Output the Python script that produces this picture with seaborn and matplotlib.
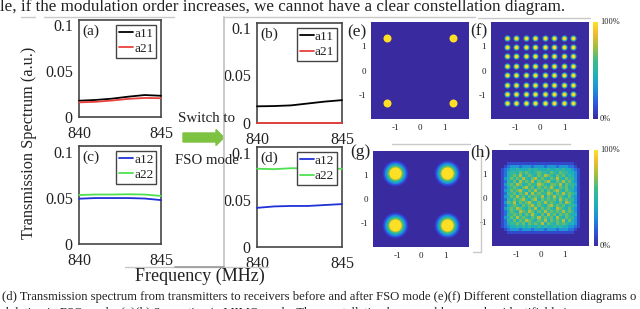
import matplotlib
matplotlib.use("Agg")
import matplotlib.pyplot as plt
import numpy as np
import pandas as pd
import seaborn as sns
from matplotlib.cm import ScalarMappable
from matplotlib.colors import LinearSegmentedColormap, Normalize
from matplotlib.lines import Line2D
from matplotlib.patches import FancyArrow

W, H = 640, 309

# data
freq = [840, 841, 842, 843, 844, 845]
a11_before = [0.0178, 0.0186, 0.0200, 0.0222, 0.0240, 0.0232]
a21_before = [0.0160, 0.0166, 0.0180, 0.0198, 0.0208, 0.0205]
a12_before = [0.0490, 0.0497, 0.0497, 0.0497, 0.0492, 0.0475]
a22_before = [0.0530, 0.0535, 0.0535, 0.0538, 0.0535, 0.0520]
a11_after = [0.0175, 0.0178, 0.0185, 0.0205, 0.0225, 0.0240]
a21_after = [0.0003, 0.0003, 0.0003, 0.0003, 0.0003, 0.0003]
a12_after = [0.0415, 0.0430, 0.0435, 0.0435, 0.0445, 0.0455]
a22_after = [0.0830, 0.0825, 0.0835, 0.0835, 0.0825, 0.0830]

qpsk_tx = [-1.35, 1.35]
qam_levels = [-1.35, -0.96, -0.58, -0.19, 0.19, 0.58, 0.96, 1.35]
qpsk_rx = [-1.1, 1.1]

# received 64QAM density, one digit per cell (ninths of full scale)
rx64_rows = [
    "00000000000000000000000000000000",
    "00000000000000000000000000000000",
    "00000000000000000000000000000000",
    "00000000000000000000000000000000",
    "00000111111111111111111111100000",
    "00001233323332333233323332210000",
    "00012344544454544454454544321000",
    "00012455465654565546546554431000",
    "00012456574565465765465645431000",
    "00013465657546756546575465531000",
    "00012546475657465675465756431000",
    "00013565764565576546657465541000",
    "00012456546756465657546564531000",
    "00013465675465756465675465431000",
    "00012556465747565576465756541000",
    "00013465756465657465756546431000",
    "00012546567546746565647565531000",
    "00013657465675465756546476431000",
    "00012456546567565467565645541000",
    "00013565765465746565476546431000",
    "00012465476576465756565756531000",
    "00012556564657546475646565441000",
    "00013465756546575656475465531000",
    "00012546465765465746565746431000",
    "00012455656465657465465654431000",
    "00012344545454454544545443321000",
    "00001233323332333233323332210000",
    "00000111111111111111111111100000",
    "00000000000000000000000000000000",
    "00000000000000000000000000000000",
    "00000000000000000000000000000000",
    "00000000000000000000000000000000",
]
rx64 = [[int(c) / 9 for c in row] for row in rx64_rows]

SERIF = "Liberation Serif"
DARK = "#454545"
sns.set_theme(style="white")
plt.rcParams["font.family"] = SERIF
plt.rcParams["text.color"] = "#222222"
plt.rcParams["xtick.color"] = "#222222"
plt.rcParams["ytick.color"] = "#222222"

parula = LinearSegmentedColormap.from_list("parula_like", [
    (0.0, "#3a2a9f"), (0.15, "#2f55dd"), (0.3, "#1f8fd8"), (0.45, "#1fb2b8"),
    (0.6, "#3dbb8a"), (0.75, "#a5bf3c"), (0.88, "#f0bb30"), (1.0, "#fde025"),
])
BG = "#3a2a9f"

fig = plt.figure(figsize=(W / 100, H / 100), dpi=100)


def box(x0, y0, x1, y1):
    # pixel box (y down) to a figure fraction rect
    return [x0 / W, 1 - y1 / H, (x1 - x0) / W, (y1 - y0) / H]


def ftext(x, y, s, size, **kw):
    kw.setdefault("ha", "center")
    kw.setdefault("va", "center")
    fig.text(x / W, 1 - y / H, s, fontsize=size, family=SERIF, **kw)


def stray(xs, ys, color="#c9c9c9", lw=1.0):
    fig.add_artist(Line2D([x / W for x in xs], [1 - y / H for y in ys], color=color, lw=lw))


def spectrum(rect, letter, s1, s2, n1, n2, c1, c2, top):
    ax = fig.add_axes(box(*rect))
    df = pd.DataFrame({"f": freq, n1: s1, n2: s2}).melt("f", var_name="path", value_name="t")
    sns.lineplot(data=df, x="f", y="t", hue="path", palette=[c1, c2], lw=1.3, ax=ax,
                 zorder=3, clip_on=False)
    ax.set_xlim(840, 845)
    ax.set_ylim(0, top)
    ax.set_xticks([840, 845])
    ax.set_yticks([0, 0.05, 0.1])
    ax.set_yticklabels(["0", "0.05", "0.1"])
    ax.set_xlabel("")
    ax.set_ylabel("")
    ax.tick_params(axis="both", labelsize=11.5, direction="in", length=2, width=0.8, color=DARK)
    ax.tick_params(axis="x", pad=6.5)
    ax.tick_params(axis="y", pad=4.5)
    for s in ax.spines.values():
        s.set_color(DARK)
        s.set_linewidth(1.2)
    ax.text(0.04, 0.95, letter, transform=ax.transAxes, fontsize=11, va="top", ha="left")
    ax.legend(loc="upper right", bbox_to_anchor=(0.94, 0.95), fontsize=9.6, fancybox=False, framealpha=1,
              edgecolor=DARK, handlelength=1.05, handletextpad=0.1, labelspacing=0.22,
              borderpad=0.2, borderaxespad=0, title=None)
    return ax


spectrum((79, 20, 161, 117), "(a)", a11_before, a21_before, "a11", "a21", "black", "#e8413c", 0.106)
spectrum((257, 23, 342, 123), "(b)", a11_after, a21_after, "a11", "a21", "black", "#e8413c", 0.105)
spectrum((79, 146, 161, 244), "(c)", a12_before, a22_before, "a12", "a22", "#2030d8", "#4fe04f", 0.106)
spectrum((257, 147, 342, 247), "(d)", a12_after, a22_after, "a12", "a22", "#2030d8", "#4fe04f", 0.106)


def tidy_const(ax, letter, lx, ly):
    ax.set_xlim(-2, 2)
    ax.set_ylim(-2, 2)
    ax.set_xticks([-1, 0, 1])
    ax.set_yticks([-1, 0, 1])
    ax.set_xticklabels(["-1", "0", "1"])
    ax.set_yticklabels(["-1", "0", "1"], rotation=0)
    ax.set_xlabel("")
    ax.set_ylabel("")
    ax.tick_params(axis="both", labelsize=6.5, length=0, pad=3.5)
    for s in ax.spines.values():
        s.set_visible(False)
    ftext(lx, ly, letter, 12.5)


def spots(rect, levels, layers, letter, lx, ly):
    ax = fig.add_axes(box(*rect), facecolor=BG)
    gx, gy = np.meshgrid(levels, levels)
    pts = pd.DataFrame({"I": gx.ravel(), "Q": gy.ravel()})
    for d, col in layers:
        # d is the spot diameter in pixels
        sns.scatterplot(data=pts, x="I", y="Q", s=(d * 0.72) ** 2, color=col, linewidth=0, ax=ax)
    tidy_const(ax, letter, lx, ly)
    return ax


spots((371, 22, 469, 119), qpsk_tx, [(8, "#fde025")], "(e)", 357, 32)
spots((491, 22, 589, 119), qam_levels,
      [(6.5, "#2f6fe0"), (5.4, "#1fb2b8"), (4.2, "#a5bf3c"), (3.2, "#fde025")], "(f)", 479, 31)
spots((373, 151, 469, 247), qpsk_rx,
      [(26, "#3434c0"), (24, "#2f4fdc"), (21, "#1f8fd8"), (18, "#1fb2b8"), (16, "#3dbb8a"),
       (14, "#a5bf3c"), (12, "#fde025")],
      "(g)", 360, 152)

# (h) received density as a heatmap, ticks placed at the cells for -1, 0, 1
hrect = (492, 150, 589, 246)
hax = fig.add_axes(box(*hrect))
sns.heatmap(rx64, cmap=parula, vmin=0, vmax=1, cbar=False, ax=hax,
            xticklabels=False, yticklabels=False, rasterized=True)
hax.set_xticks([len(rx64) * (v + 2) / 4 for v in [-1, 0, 1]])
hax.set_yticks([len(rx64) * (2 - v) / 4 for v in [-1, 0, 1]])
hax.set_xticklabels(["-1", "0", "1"])
hax.set_yticklabels(["-1", "0", "1"], rotation=0)
hax.tick_params(axis="both", labelsize=6.5, length=0, pad=3.5)
ftext(480, 152, "(h)", 12.5)

# colorbars
for rect, lab0, lab1 in [((593, 22, 598, 119), 119, 22), ((594, 150, 598, 246), 246, 150)]:
    cax = fig.add_axes(box(*rect))
    cb = fig.colorbar(ScalarMappable(Normalize(0, 100), parula), cax=cax)
    cb.outline.set_visible(False)
    cb.set_ticks([])
    ftext(rect[2] + 2, lab0, "0%", 6, ha="left")
    ftext(rect[2] + 2, lab1, "100%", 6, ha="left")

# axis titles and arrow
ftext(29, 143, "Transmission Spectrum (a.u.)", 11.7, rotation=90)
ftext(200, 276, "Frequency (MHz)", 13)
ftext(207, 119, "Switch to", 10.8)
ftext(207, 161, "FSO mode", 10.6)
fig.add_artist(FancyArrow(183 / W, 1 - 137.5 / H, 41 / W, 0, width=9 / H, head_width=16 / H,
                          head_length=8 / W, length_includes_head=True, color="#7ec241",
                          transform=fig.transFigure))

# caption text around the figure
ftext(0, 7, "le, if the modulation order increases, we cannot have a clear constellation diagram.",
      12.27, ha="left")
ftext(2, 297, "(d) Transmission spectrum from transmitters to receivers before and after FSO mode "
      "(e)(f) Different constellation diagrams o", 9.1, ha="left")
ftext(-4, 313, "odulation in FSO mode. (g)(h) Separation in MIMO mode. The constellation becomes "
      "blurry and unidentifiable in", 9.1, ha="left")

# leftover rules from the source layout
stray([21, 35], [17, 17])
stray([44, 174], [17, 17])
stray([224, 475], [17, 17])
stray([478, 590], [18, 18])
stray([224, 224], [17, 267], lw=1.4)
stray([125, 268], [267, 267])
stray([175, 224], [267, 267], color="#999999", lw=1.2)
stray([481, 481], [150, 252])
stray([473, 481], [252, 252])
stray([392, 470], [144, 144])
stray([509, 570], [144, 144])

fig.savefig("out.png", dpi=100)
